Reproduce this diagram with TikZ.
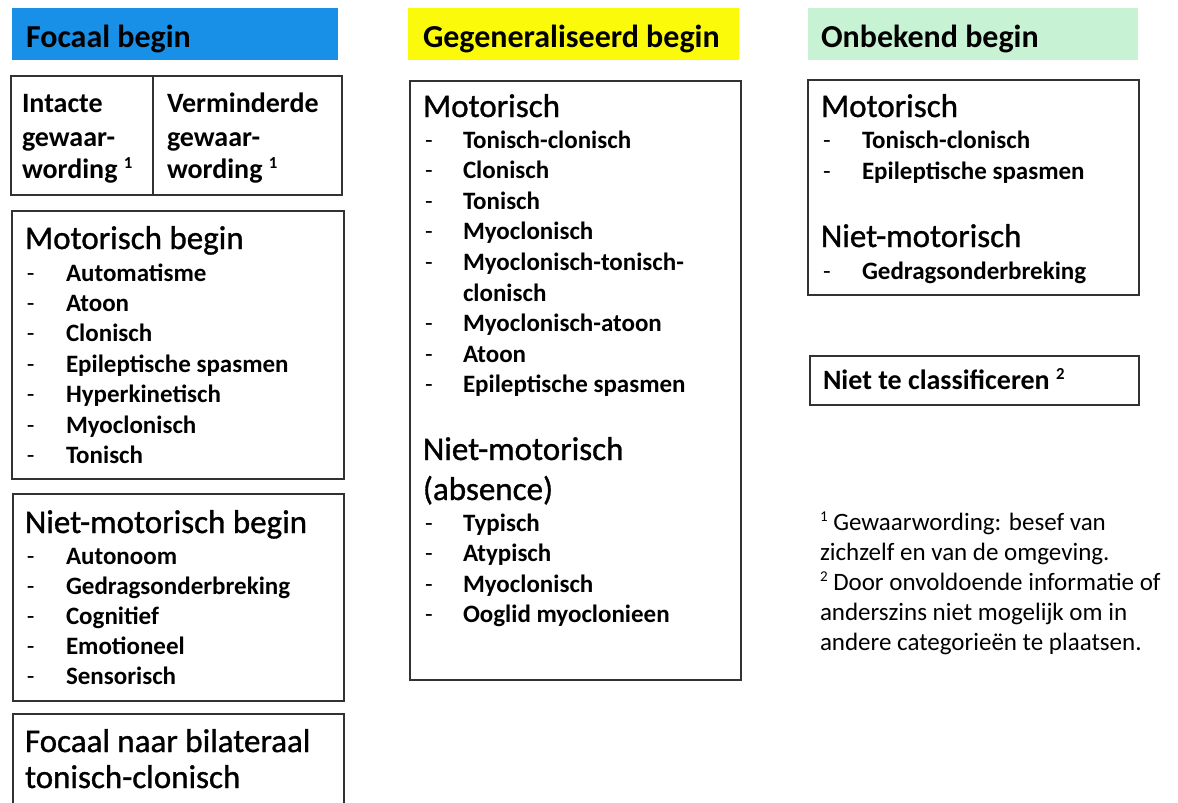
\documentclass[tikz,border=0pt]{standalone}
\usepackage{fontspec}
\usepackage{graphicx}
\setmainfont{Carlito}
\definecolor{hblue}{RGB}{24,144,232}
\definecolor{hyellow}{RGB}{250,250,10}
\definecolor{hgreen}{RGB}{200,242,212}
\definecolor{edge}{RGB}{50,50,50}
\newcommand\fnmk[1]{\raisebox{0.33em}{\scalebox{0.6}{#1}}}
\begin{document}
\begin{tikzpicture}[x=1pt,y=-1pt,
  box/.style={draw=edge, line width=1.8pt, inner sep=0pt, anchor=north west},
  hdrbox/.style={inner sep=0pt, anchor=north west, minimum height=52pt},
  txt/.style={anchor=base west, inner sep=0pt, outer sep=0pt},
  hdrfont/.style={txt, font=\fontsize{32}{39}\selectfont\bfseries},
  headfont/.style={txt, font=\fontsize{33}{40}\selectfont\addfontfeature{FakeBold=1}},
  itemfont/.style={txt, font=\fontsize{25}{30}\selectfont\bfseries},
  dashfont/.style={txt, font=\fontsize{25}{30}\selectfont},
  midfont/.style={txt, font=\fontsize{28}{33}\selectfont\bfseries},
  notefont/.style={txt, font=\fontsize{25}{30}\selectfont}]
\useasboundingbox (0,0) rectangle (1178,803);
\clip (0,0) rectangle (1178,803);

% ---------- headers ----------
\node[hdrbox, fill=hblue, minimum width=326pt] (hf) at (12,8) {};
\node[hdrfont] (hft) at (26,47) {Focaal begin};
\node[hdrbox, fill=hyellow, minimum width=331pt] (hg) at (408,8) {};
\node[hdrfont] (hgt) at (423,47) {Gegeneraliseerd begin};
\node[hdrbox, fill=hgreen, minimum width=330pt] (ho) at (808,8) {};
\node[hdrfont] (hot) at (821,47) {Onbekend begin};

% ---------- left column ----------
\node[box, minimum width=142pt, minimum height=119pt] (ia) at (10,75) {};
\node[box, minimum width=189pt, minimum height=119pt] (vg) at (152,75) {};
\node[midfont] (ia1) at (22,112) {Intacte};
\node[midfont] (ia2) at (22,146) {gewaar-};
\node[midfont] (ia3) at (22,178) {wording \fnmk{1}};
\node[midfont] (vg1) at (167,112) {Verminderde};
\node[midfont] (vg2) at (167,146) {gewaar-};
\node[midfont] (vg3) at (167,178) {wording \fnmk{1}};

\node[box, minimum width=332pt, minimum height=268pt] (mb) at (11,210) {};
\node[headfont] (mbh) at (25,249) {Motorisch begin};
\foreach \t [count=\i] in {Automatisme, Atoon, Clonisch, Epileptische spasmen, Hyperkinetisch, Myoclonisch, Tonisch}{
  \node[dashfont] (mbd\i) at (27,{281+30.45*(\i-1)}) {-};
  \node[itemfont] (mbi\i) at (66,{281+30.45*(\i-1)}) {\t};
}

\node[box, minimum width=331pt, minimum height=207pt] (nm) at (12,493) {};
\node[headfont] (nmh) at (25,533) {Niet-motorisch begin};
\foreach \t [count=\i] in {Autonoom, Gedragsonderbreking, Cognitief, Emotioneel, Sensorisch}{
  \node[dashfont] (nmd\i) at (27,{564+30*(\i-1)}) {-};
  \node[itemfont] (nmi\i) at (66,{564+30*(\i-1)}) {\t};
}

\node[box, minimum width=331pt, minimum height=130pt] (fb) at (12,713) {};
\node[headfont] (fb1) at (25,752) {Focaal naar bilateraal};
\node[headfont] (fb2) at (25,788) {tonisch-clonisch};

% ---------- middle column ----------
\node[box, minimum width=331pt, minimum height=599pt] (gb) at (409,80) {};
\node[headfont] (gbh) at (423,117) {Motorisch};
\foreach \t/\d [count=\i] in {Tonisch-clonisch/-, Clonisch/-, Tonisch/-, Myoclonisch/-, Myoclonisch-tonisch-/-, clonisch/{}, Myoclonisch-atoon/-, Atoon/-, Epileptische spasmen/-}{
  \node[dashfont] (gbd\i) at (425,{148+30.6*(\i-1)}) {\d};
  \node[itemfont] (gbi\i) at (463,{148+30.6*(\i-1)}) {\t};
}
\node[headfont] (gnh1) at (423,460) {Niet-motorisch};
\node[headfont] (gnh2) at (423,500) {(absence)};
\foreach \t [count=\i] in {Typisch, Atypisch, Myoclonisch, Ooglid myoclonieen}{
  \node[dashfont] (gnd\i) at (425,{531+30.5*(\i-1)}) {-};
  \node[itemfont] (gni\i) at (463,{531+30.5*(\i-1)}) {\t};
}

% ---------- right column ----------
\node[box, minimum width=331pt, minimum height=215pt] (ob) at (807,79) {};
\node[headfont] (obh) at (821,117) {Motorisch};
\node[dashfont] (obd1) at (823,148) {-};
\node[itemfont] (obi1) at (862,148) {Tonisch-clonisch};
\node[dashfont] (obd2) at (823,179) {-};
\node[itemfont] (obi2) at (862,179) {Epileptische spasmen};
\node[headfont] (onh) at (821,247) {Niet-motorisch};
\node[dashfont] (ond1) at (823,279) {-};
\node[itemfont] (oni1) at (862,279) {Gedragsonderbreking};

\node[box, minimum width=329pt, minimum height=49pt] (nc) at (809,355) {};
\node[midfont] (nct) at (823,389) {Niet te classificeren \fnmk{2}};

\node[notefont] (n1) at (820,530) {\fnmk{1} Gewaarwording: besef van};
\node[notefont] (n2) at (820,560) {zichzelf en van de omgeving.};
\node[notefont] (n3) at (820,590) {\fnmk{2} Door onvoldoende informatie of};
\node[notefont] (n4) at (820,620) {anderszins niet mogelijk om in};
\node[notefont] (n5) at (820,650) {andere categorieën te plaatsen.};
\end{tikzpicture}
\end{document}
